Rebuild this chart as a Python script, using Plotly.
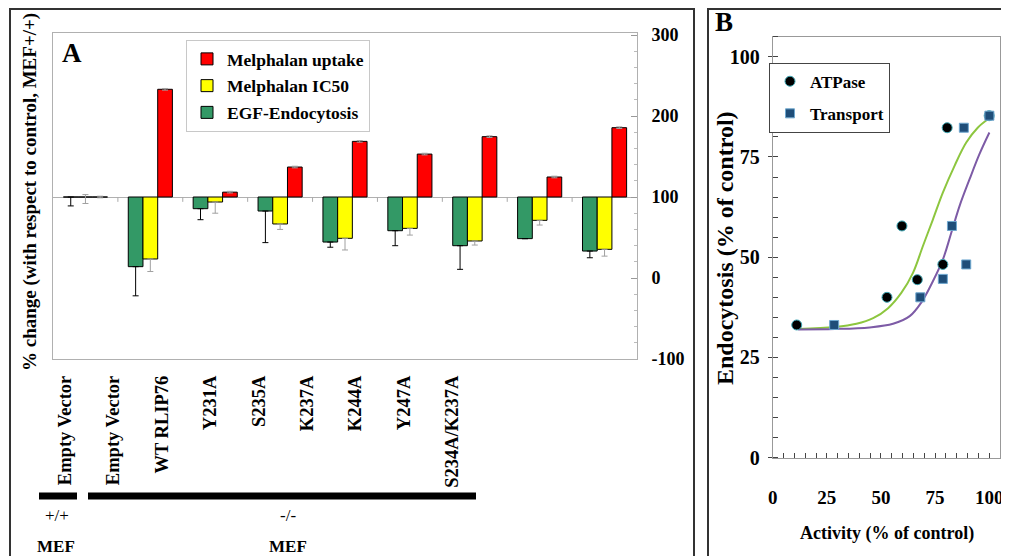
import plotly.graph_objects as go

# page body has an 8px default margin; draw in reference pixel space shifted by it
OX, OY = 8, 8
FW, FH = 1001, 548

# ---------------- Panel A data ----------------
categories = ["Empty Vector", "Empty Vector", "WT RLIP76", "Y231A", "S235A",
              "K237A", "K244A", "Y247A", "S234A/K237A"]
egf = [100, 14, 85.6, 82.7, 44.4, 58.4, 39.9, 48.6, 33.3]
egf_err = [11, 36, 13.6, 39, 6.4, 18.5, 29.2, 0, 8.3]
ic50 = [100, 23.5, 93.8, 66.7, 49, 61.3, 45.7, 71.2, 35.4]
ic50_err = [8, 15.5, 13.8, 6.7, 14.4, 8.3, 5, 5.8, 8.4]
ic50_err_up = [3, 0, 0, 0, 0, 0, 0, 0, 0]
uptake = [100, 233, 106, 137, 168.7, 153, 174.5, 124.7, 185.6]
uptake_err = [1, 1, 1, 1, 1, 1, 1, 1, 1]
a_tickvals = [300, 200, 100, 0, -100]
A_BASE = 100

# ---------------- Panel B data ----------------
atp_x = [11.1, 52.8, 59.7, 66.8, 78.6, 80.6, 100]
atp_y = [33.1, 40.0, 57.8, 44.4, 48.2, 82.3, 85.3]
tr_x = [28.4, 68.2, 78.6, 82.8, 89.4, 88.3, 100.1]
tr_y = [33.1, 40.0, 44.6, 57.8, 48.2, 82.3, 85.3]
fit_atp_x = [11.8, 28.7, 38.7, 46.4, 53.3, 59.4, 64.8, 69.4, 74.0, 78.6, 84.0, 89.4, 94.7, 99.4]
fit_atp_y = [32.1, 32.6, 33.4, 34.8, 37.3, 41.1, 46.1, 52.8, 59.4, 66.1, 72.8, 78.6, 82.3, 84.4]
fit_tr_x = [11.8, 28.7, 44.8, 55.6, 63.3, 68.7, 74.0, 78.6, 82.5, 86.3, 90.9, 95.5, 100.1]
fit_tr_y = [32.0, 32.1, 32.5, 33.4, 35.3, 38.75, 44.0, 49.4, 56.1, 62.75, 69.4, 75.7, 81.1]
b_ticks = [0, 25, 50, 75, 100]

SERIF = "Liberation Serif"
GREEN = "#339966"
YELLOW = "#ffff00"
RED = "#ff0000"


def px(x):
    return (x - OX) / FW


def py(y):
    return 1 - (y - OY) / FH


def bold(size):
    return dict(family=SERIF, size=size, color="black", weight="bold")


idx = list(range(len(categories)))
fig = go.Figure()

fig.add_trace(go.Bar(
    x=idx, y=[v - A_BASE for v in egf], name="EGF-Endocytosis",
    marker=dict(color=GREEN, line=dict(color="black", width=1)),
    error_y=dict(type="data", symmetric=False, array=[0] * len(egf), arrayminus=egf_err,
                 color="black", thickness=1, width=3),
    legend="legend", legendgroup="g", legendrank=3, xaxis="x", yaxis="y"))
fig.add_trace(go.Bar(
    x=idx, y=[v - A_BASE for v in ic50], name="Melphalan IC50",
    marker=dict(color=YELLOW, line=dict(color="black", width=1)),
    error_y=dict(type="data", symmetric=False, array=ic50_err_up, arrayminus=ic50_err,
                 color="#a0a0a0", thickness=1, width=3),
    legend="legend", legendgroup="y", legendrank=2, xaxis="x", yaxis="y"))
fig.add_trace(go.Bar(
    x=idx, y=[v - A_BASE for v in uptake], name="Melphalan uptake",
    marker=dict(color=RED, line=dict(color="black", width=1)),
    error_y=dict(type="data", symmetric=True, array=uptake_err,
                 color="#a0a0a0", thickness=1, width=3),
    legend="legend", legendgroup="r", legendrank=1, xaxis="x", yaxis="y"))

# category labels on their own axis
fig.add_trace(go.Scatter(x=idx, y=[0] * len(idx), mode="markers", marker=dict(opacity=0),
                         showlegend=False, hoverinfo="skip", xaxis="x3", yaxis="y3"))

# Panel B
fig.add_trace(go.Scatter(x=fit_atp_x, y=fit_atp_y, mode="lines",
                         line=dict(color="#8dc63f", width=2, shape="spline"),
                         showlegend=False, hoverinfo="skip", xaxis="x2", yaxis="y2"))
fig.add_trace(go.Scatter(x=fit_tr_x, y=fit_tr_y, mode="lines",
                         line=dict(color="#7d5ba6", width=2, shape="spline"),
                         showlegend=False, hoverinfo="skip", xaxis="x2", yaxis="y2"))
fig.add_trace(go.Scatter(x=atp_x, y=atp_y, mode="markers", name="ATPase",
                         marker=dict(symbol="circle", size=10, color="black",
                                     line=dict(color="#3fa7b5", width=1)),
                         legend="legend2", legendgroup="a", legendrank=1, xaxis="x2", yaxis="y2"))
fig.add_trace(go.Scatter(x=tr_x, y=tr_y, mode="markers", name="Transport",
                         marker=dict(symbol="square", size=9, color="#1f4e79",
                                     line=dict(color="#6fa8d0", width=1)),
                         legend="legend2", legendgroup="t", legendrank=2, xaxis="x2", yaxis="y2"))

shapes = []
# panel frames
shapes.append(dict(type="rect", xref="paper", yref="paper", x0=px(10), x1=px(694), y0=-0.03, y1=py(9),
                   line=dict(color="#333", width=2)))
shapes.append(dict(type="rect", xref="paper", yref="paper", x0=px(708), x1=px(1007), y0=-0.03, y1=py(9),
                   line=dict(color="#333", width=2)))
# group divider ticks on the baseline
for i in range(len(categories) - 1):
    shapes.append(dict(type="line", xref="x", yref="y", x0=i + 0.5, x1=i + 0.5, y0=0, y1=-6,
                       line=dict(color="#aaa", width=1)))
# MEF genotype bars
shapes.append(dict(type="rect", xref="paper", yref="paper", x0=px(39), x1=px(77), y0=py(499.5), y1=py(492.5),
                   fillcolor="black", line=dict(width=0)))
shapes.append(dict(type="rect", xref="paper", yref="paper", x0=px(88), x1=px(476), y0=py(499.5), y1=py(492.5),
                   fillcolor="black", line=dict(width=0)))


def ann(text, x, y, font, angle=0):
    return dict(text=text, x=px(x), y=py(y), xref="paper", yref="paper", showarrow=False,
                xanchor="center", yanchor="middle", textangle=angle, font=font)


annotations = [
    ann("A", 72, 53, bold(27)),
    ann("B", 724, 22, bold(27)),
    ann("+/+", 57, 515, dict(family=SERIF, size=17, color="black")),
    ann("-/-", 288, 515, dict(family=SERIF, size=17, color="black")),
    ann("MEF", 56, 546, bold(17)),
    ann("MEF", 288, 546, bold(17)),
    ann("% change (with respect to control, MEF+/+)", 30, 192, bold(19), -90),
    ann("Endocytosis (% of control)", 725, 248, bold(24), -90),
    ann("Activity (% of control)", 887, 533, bold(18)),
]

fig.update_layout(
    template="none",
    width=FW, height=FH, margin=dict(l=0, r=0, t=0, b=0, pad=0, autoexpand=False),
    paper_bgcolor="white", plot_bgcolor="white",
    barmode="group", bargap=0.32, bargroupgap=0,
    showlegend=True,
    xaxis=dict(domain=[px(53), px(637)], range=[-0.5, len(categories) - 0.5], showticklabels=False,
               ticks="", showgrid=False, zeroline=False, showline=True, mirror=True, linecolor="#b0b0b0",
               linewidth=1, anchor="y", automargin=False),
    yaxis=dict(domain=[py(359), py(33)], range=[-200, 202.5], side="right", anchor="x",
               tickmode="array", tickvals=[v - A_BASE for v in a_tickvals],
               ticktext=[str(v) for v in a_tickvals],
               ticks="inside", ticklen=6, tickcolor="#999", ticklabelstandoff=10,
               minor=dict(dtick=20, tick0=0, ticks="inside", ticklen=3, tickcolor="#bbb"),
               showgrid=False, zeroline=True, zerolinecolor="#b0b0b0", zerolinewidth=1,
               showline=True, mirror=True, linecolor="#b0b0b0", linewidth=1, tickfont=bold(18),
               automargin=False),
    xaxis3=dict(domain=[px(40.8), px(476.2)], range=[-0.5, len(categories) - 0.5], anchor="free",
                position=py(371), tickmode="array", tickvals=idx, ticktext=categories, tickangle=-90,
                ticks="", showline=False, showgrid=False, zeroline=False, tickfont=bold(18.5),
                automargin=False),
    yaxis3=dict(domain=[0, 0.05], visible=False, anchor="x3", automargin=False),
    xaxis2=dict(domain=[px(772.7), px(1000)], range=[0, 105], anchor="y2",
                tickmode="array", tickvals=b_ticks, ticks="inside", ticklen=5, tickcolor="#444",
                minor=dict(dtick=5, tick0=0, ticks="inside", ticklen=5, tickcolor="#444"),
                ticklabelstandoff=22, showgrid=False, zeroline=False, showline=True, mirror=True,
                linecolor="#999", linewidth=1, tickfont=bold(19), automargin=False),
    yaxis2=dict(domain=[py(457.7), py(36.7)], range=[0, 105], anchor="x2",
                tickmode="array", tickvals=b_ticks, ticks="outside", ticklen=4, tickcolor="#444",
                minor=dict(dtick=5, tick0=0, ticks="inside", ticklen=5, tickcolor="#444"),
                ticklabelstandoff=4,
                showgrid=False, zeroline=False, showline=True, mirror=True, linecolor="#999", linewidth=1,
                tickfont=bold(20), automargin=False),
    legend=dict(x=px(186), y=py(40), xanchor="left", yanchor="top", bgcolor="white",
                bordercolor="#c8c8c8", borderwidth=1, traceorder="grouped", tracegroupgap=1,
                font=bold(17.5), itemwidth=30),
    legend2=dict(x=px(769), y=py(62.7), xanchor="left", yanchor="top", bgcolor="white",
                 bordercolor="#444", borderwidth=1, traceorder="grouped", tracegroupgap=7,
                 font=bold(17), itemwidth=30),
    shapes=shapes, annotations=annotations,
)

fig.write_html("out.html")
